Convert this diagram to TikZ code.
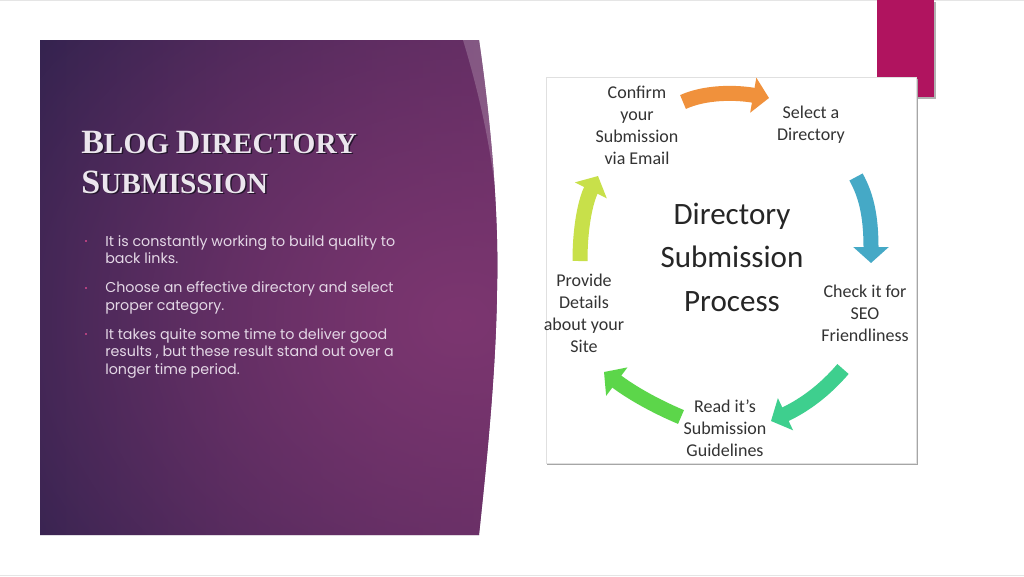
\documentclass[tikz,border=0pt]{standalone}
\usepackage{fontspec}
\setmainfont{Liberation Serif}
\newfontfamily\bodyfont{Poppins}
\newfontfamily\calfont{Carlito}
\usetikzlibrary{arrows.meta,fadings}
\tikzfading[name=glowfade, inner color=transparent!0, outer color=transparent!100]
\definecolor{panelA}{HTML}{29204A}
\definecolor{panelB}{HTML}{54295C}
\definecolor{glowc}{HTML}{7C3670}
\definecolor{titlec}{HTML}{ECE6EE}
\definecolor{titlesh}{HTML}{24162C}
\definecolor{bodyc}{HTML}{E4D8E6}
\definecolor{bulletc}{HTML}{B0407E}
\definecolor{magc}{HTML}{B0145F}
\definecolor{labc}{HTML}{333333}
\definecolor{arOrange}{HTML}{F0913C}
\definecolor{arBlue}{HTML}{45A9C6}
\definecolor{arTeal}{HTML}{3ECF8E}
\definecolor{arGreen}{HTML}{5CD64A}
\definecolor{arYellow}{HTML}{C8E04A}
\newcommand\ttl[2]{{\fontsize{25.5}{27}\selectfont #1}{\fontsize{22}{27}\selectfont #2}}
\tikzset{
  titletext/.style={anchor=base west, inner sep=0pt, font=\bfseries},
  bodytext/.style={anchor=base west, inner sep=0pt, text=bodyc, font=\bodyfont\fontsize{10.7}{13.2}\selectfont},
  bulletbox/.style={fill=bulletc, minimum size=1.8pt, inner sep=0pt},
  lab/.style={align=center, text=labc, inner sep=0pt, font=\calfont\fontsize{13.5}{16.5}\selectfont},
  biglab/.style={align=center, text=black!85, inner sep=0pt, font=\calfont\fontsize{23.3}{32.6}\selectfont},
  cyc/.style={line width=11.25pt, -{Triangle[length=12pt,width=26pt]}}
}
\begin{document}
\begin{tikzpicture}[x=0.75pt,y=-0.75pt]
\useasboundingbox (0,0) rectangle (1024,576);
\fill[white] (0,0) rectangle (1024,576);
\draw[black!10, line width=0.75pt] (0,0.5) -- (1024,0.5);
\draw[black!10, line width=0.75pt] (0,575.5) -- (1024,575.5);
% purple panel
\def\panel{(40,40) -- (479,40) .. controls (492,130) and (499,220) .. (497,290) .. controls (496,370) and (487,460) .. (479,535) -- (40,535) -- cycle}
\shade[left color=panelA, right color=panelB] \panel;
\begin{scope}
  \clip \panel;
  \fill[glowc, path fading=glowfade] (460,320) ellipse [x radius=620, y radius=520];
  \fill[white, opacity=0.2] (463,40) .. controls (478,90) and (490,140) .. (497,205) -- (520,205) -- (520,40) -- cycle;
\end{scope}
% title
\node[titletext, text=titlesh] (t1s) at (82.5,154.5) {\ttl{B}{LOG}\hspace{5pt}\ttl{D}{IRECTORY}};
\node[titletext, text=titlec] (t1) at (81,153) {\ttl{B}{LOG}\hspace{5pt}\ttl{D}{IRECTORY}};
\node[titletext, text=titlesh] (t2s) at (82.5,194.5) {\ttl{S}{UBMISSION}};
\node[titletext, text=titlec] (t2) at (81,193) {\ttl{S}{UBMISSION}};
% bullets
\node[bulletbox] (b1) at (86,241) {};
\node[bulletbox] (b2) at (86,288) {};
\node[bulletbox] (b3) at (86,334) {};
\node[bodytext] (p1a) at (105,246) {It is constantly working to build quality to};
\node[bodytext] (p1b) at (105,263.5) {back links.};
\node[bodytext] (p2a) at (105,292.5) {Choose an effective directory and select};
\node[bodytext] (p2b) at (105,310) {proper category.};
\node[bodytext] (p3a) at (105,339) {It takes quite some time to deliver good};
\node[bodytext] (p3b) at (105,356.5) {results , but these result stand out over a};
\node[bodytext] (p3c) at (105,374) {longer time period.};
% magenta block
\fill[black!30] (879,2) rectangle (936,99);
\fill[magc] (877,0) rectangle (934,97);
% picture frame
\fill[black!35] (547,79) rectangle (918,465);
\node[fill=white, draw=black!12, line width=0.5pt, minimum width=277.5pt, minimum height=289.5pt, inner sep=0pt] (img) at (731,270) {};
% labels
\node[biglab] (c) at (732,257) {Directory\\Submission\\Process};
\node[lab] (l1) at (637,125) {Confirm\\your\\Submission\\via Email};
\node[lab] (l2) at (811,125) {Select a\\Directory};
\node[lab] (l3) at (865,313) {Check it for\\SEO\\Friendliness};
\node[lab] (l4) at (725,428) {Read it’s\\Submission\\Guidelines};
\node[lab] (l5) at (584,313) {Provide\\Details\\about your\\Site};
% cycle arrows
\coordinate (o1) at (683,102); \coordinate (o2) at (769,98);
\coordinate (u1) at (856,177); \coordinate (u2) at (871,263);
\coordinate (g1) at (843,369); \coordinate (g2) at (771,421);
\coordinate (h1) at (681,417); \coordinate (h2) at (604,372);
\coordinate (y1) at (580,261); \coordinate (y2) at (598,176);
\draw[cyc, arOrange] (o1) .. controls (705,92) and (735,92) .. (o2);
\draw[cyc, arBlue] (u1) .. controls (866,195) and (871,215) .. (u2);
\draw[cyc, arTeal] (g1) .. controls (825,390) and (805,405) .. (g2);
\draw[cyc, arGreen] (h1) .. controls (655,406) and (632,393) .. (h2);
\draw[cyc, arYellow] (y1) .. controls (580,225) and (586,200) .. (y2);
\end{tikzpicture}
\end{document}
